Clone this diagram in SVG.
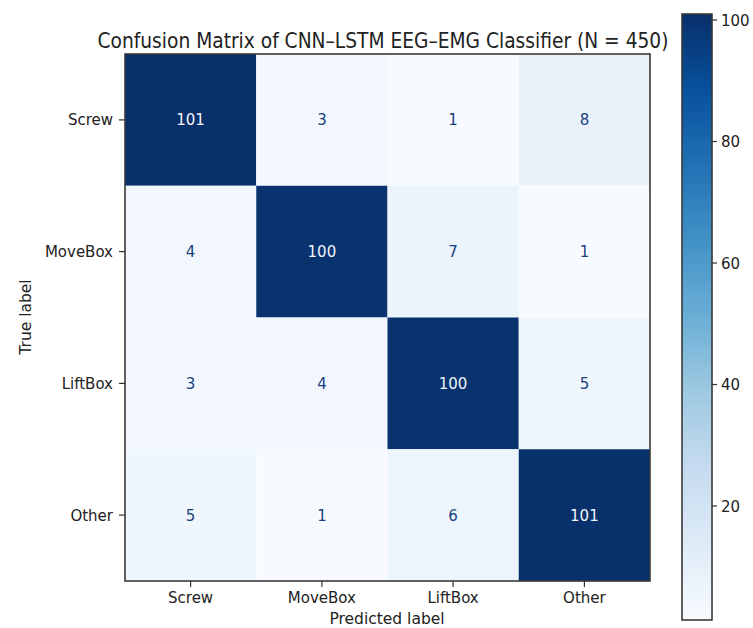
<svg xmlns="http://www.w3.org/2000/svg" width="753" height="628" viewBox="0 0 753 628">
<defs>
<linearGradient id="blues" x1="0" y1="0" x2="0" y2="1">
<stop offset="0" stop-color="#08306b"/>
<stop offset="0.125" stop-color="#08519c"/>
<stop offset="0.25" stop-color="#2171b5"/>
<stop offset="0.375" stop-color="#4292c6"/>
<stop offset="0.5" stop-color="#6baed6"/>
<stop offset="0.625" stop-color="#9ecae1"/>
<stop offset="0.75" stop-color="#c6dbef"/>
<stop offset="0.875" stop-color="#deebf7"/>
<stop offset="1" stop-color="#f7fbff"/>
</linearGradient>
</defs>
<style>
text{font-family:"DejaVu Sans","Liberation Sans",sans-serif;fill:#222;}
.lbl{font-size:15px;}
.num{font-size:15px;text-anchor:middle;}
.dk{fill:#f0f4f9;}
.lt{fill:#1a4280;}
.tick{stroke:#333;stroke-width:1.2;}
.frame{fill:none;stroke:#3a3a3a;stroke-width:1.6;}
</style>
<rect width="753" height="628" fill="#ffffff"/>
<text x="383" y="48" font-size="21" text-anchor="middle" textLength="571" lengthAdjust="spacingAndGlyphs">Confusion Matrix of CNN–LSTM EEG–EMG Classifier (N = 450)</text>
<g id="cells">
<g id="cell-screw-screw"><rect x="125" y="54" width="131.25" height="131.75" fill="#08306b"/><text class="num dk" x="190.6" y="125.4">101</text></g>
<g id="cell-screw-movebox"><rect x="256.25" y="54" width="131.25" height="131.75" fill="#f3f8fe"/><text class="num lt" x="321.9" y="125.4">3</text></g>
<g id="cell-screw-liftbox"><rect x="387.5" y="54" width="131.25" height="131.75" fill="#f7fbff"/><text class="num lt" x="453.1" y="125.4">1</text></g>
<g id="cell-screw-other"><rect x="518.75" y="54" width="131.25" height="131.75" fill="#e9f2fb"/><text class="num lt" x="584.4" y="125.4">8</text></g>
<g id="cell-movebox-screw"><rect x="125" y="185.75" width="131.25" height="131.75" fill="#f1f7fd"/><text class="num lt" x="190.6" y="257.1">4</text></g>
<g id="cell-movebox-movebox"><rect x="256.25" y="185.75" width="131.25" height="131.75" fill="#08336f"/><text class="num dk" x="321.9" y="257.1">100</text></g>
<g id="cell-movebox-liftbox"><rect x="387.5" y="185.75" width="131.25" height="131.75" fill="#ebf3fb"/><text class="num lt" x="453.1" y="257.1">7</text></g>
<g id="cell-movebox-other"><rect x="518.75" y="185.75" width="131.25" height="131.75" fill="#f7fbff"/><text class="num lt" x="584.4" y="257.1">1</text></g>
<g id="cell-liftbox-screw"><rect x="125" y="317.5" width="131.25" height="131.75" fill="#f3f8fe"/><text class="num lt" x="190.6" y="388.9">3</text></g>
<g id="cell-liftbox-movebox"><rect x="256.25" y="317.5" width="131.25" height="131.75" fill="#f1f7fd"/><text class="num lt" x="321.9" y="388.9">4</text></g>
<g id="cell-liftbox-liftbox"><rect x="387.5" y="317.5" width="131.25" height="131.75" fill="#08336f"/><text class="num dk" x="453.1" y="388.9">100</text></g>
<g id="cell-liftbox-other"><rect x="518.75" y="317.5" width="131.25" height="131.75" fill="#eff6fc"/><text class="num lt" x="584.4" y="388.9">5</text></g>
<g id="cell-other-screw"><rect x="125" y="449.25" width="131.25" height="131.75" fill="#eff6fc"/><text class="num lt" x="190.6" y="520.6">5</text></g>
<g id="cell-other-movebox"><rect x="256.25" y="449.25" width="131.25" height="131.75" fill="#f7fbff"/><text class="num lt" x="321.9" y="520.6">1</text></g>
<g id="cell-other-liftbox"><rect x="387.5" y="449.25" width="131.25" height="131.75" fill="#edf5fc"/><text class="num lt" x="453.1" y="520.6">6</text></g>
<g id="cell-other-other"><rect x="518.75" y="449.25" width="131.25" height="131.75" fill="#08306b"/><text class="num dk" x="584.4" y="520.6">101</text></g>
</g>
<rect class="frame" x="125" y="54" width="525" height="527"/>
<g id="y-axis">
<line class="tick" x1="119" y1="119.9" x2="125" y2="119.9"/>
<line class="tick" x1="119" y1="251.6" x2="125" y2="251.6"/>
<line class="tick" x1="119" y1="383.4" x2="125" y2="383.4"/>
<line class="tick" x1="119" y1="515.1" x2="125" y2="515.1"/>
<text class="lbl" x="113" y="125.4" text-anchor="end">Screw</text>
<text class="lbl" x="113" y="257.1" text-anchor="end">MoveBox</text>
<text class="lbl" x="113" y="388.9" text-anchor="end">LiftBox</text>
<text class="lbl" x="113" y="520.6" text-anchor="end">Other</text>
<text font-size="15.5" text-anchor="middle" transform="translate(31,317) rotate(-90)">True label</text>
</g>
<g id="x-axis">
<line class="tick" x1="190.6" y1="581" x2="190.6" y2="587"/>
<line class="tick" x1="321.9" y1="581" x2="321.9" y2="587"/>
<line class="tick" x1="453.1" y1="581" x2="453.1" y2="587"/>
<line class="tick" x1="584.4" y1="581" x2="584.4" y2="587"/>
<text class="lbl" x="190.6" y="603" text-anchor="middle">Screw</text>
<text class="lbl" x="321.9" y="603" text-anchor="middle">MoveBox</text>
<text class="lbl" x="453.1" y="603" text-anchor="middle">LiftBox</text>
<text class="lbl" x="584.4" y="603" text-anchor="middle">Other</text>
<text font-size="15.5" x="387" y="624" text-anchor="middle">Predicted label</text>
</g>
<g id="colorbar">
<rect x="682" y="14" width="30" height="606" fill="url(#blues)"/>
<rect class="frame" x="682" y="14" width="30" height="606"/>
<line class="tick" x1="712" y1="20" x2="717" y2="20"/>
<line class="tick" x1="712" y1="141.5" x2="717" y2="141.5"/>
<line class="tick" x1="712" y1="263" x2="717" y2="263"/>
<line class="tick" x1="712" y1="384.5" x2="717" y2="384.5"/>
<line class="tick" x1="712" y1="506" x2="717" y2="506"/>
<text class="lbl" x="721" y="25.5">100</text>
<text class="lbl" x="721" y="147">80</text>
<text class="lbl" x="721" y="268.5">60</text>
<text class="lbl" x="721" y="390">40</text>
<text class="lbl" x="721" y="511.5">20</text>
</g>
</svg>
